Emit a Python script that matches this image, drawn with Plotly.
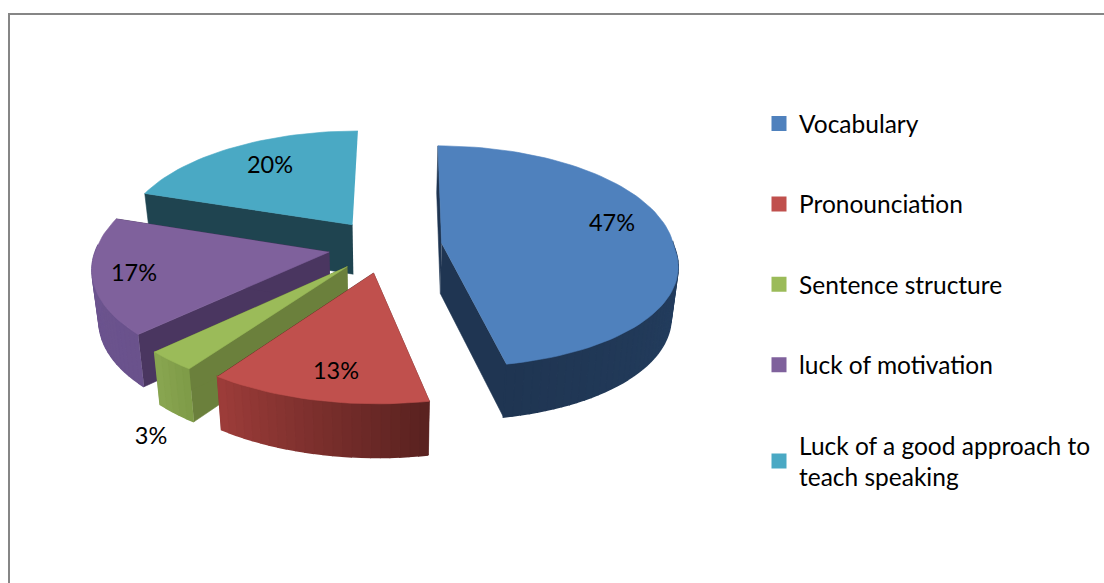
import math
import plotly.graph_objects as go

categories = ["Vocabulary", "Pronounciation", "Sentence structure", "luck of motivation",
              "Luck of a good approach to<br>teach speaking"]
percent_values = [47, 13, 3, 17, 20]

top_colors = ["#4f81bd", "#c0504d", "#9bbb59", "#7f619c", "#4aa9c4"]
face_colors = ["#1f3552", "#5a2220", "#6b803c", "#4a3660", "#1f4450"]
wall_from = ["#2a4a72", "#5a2220", "#7f9c48", "#6a528c", "#1f4450"]
wall_to = ["#1f3552", "#9c3c39", "#88a550", "#6d5591", "#1f4450"]
label_pos = [(612, 225), (336, 373), (151, 438), (134, 275), (270, 167)]

CX, CY, R, EX, K, H, SHRINK = 385, 246, 232, 57, 0.47, 50, 0.024
P_BACK, P_FRONT, P_Y_FRONT, LEAN, LEAN_BACK = 0.10, 0.16, 0.135, 6, 2
STEP = 2.0


def project(u, v, z=0.0):
    n = v / R
    f = 1 + (P_FRONT if n > 0 else P_BACK) * n
    fy = 1 + (P_Y_FRONT if n > 0 else P_BACK) * n
    x = CX + u * f + (LEAN * n if n > 0 else -LEAN_BACK * n)
    y = CY + K * v * fy
    if z:
        x = CX + (x - CX) * (1 - SHRINK)
        y += z * (1 + 0.06 * n)
    return x, y


def rim(mid, ang, r, z=0.0):
    m, a = math.radians(mid), math.radians(ang)
    return project(EX * math.sin(m) + R * r * math.sin(a),
                   -EX * math.cos(m) - R * r * math.cos(a), z)


def lerp(c1, c2, t):
    a = [int(c1[i:i + 2], 16) for i in (1, 3, 5)]
    b = [int(c2[i:i + 2], 16) for i in (1, 3, 5)]
    return "rgb(%d,%d,%d)" % tuple(round(p + (q - p) * t) for p, q in zip(a, b))


def poly(points, color, width=0.6):
    return go.Scatter(x=[p[0] for p in points], y=[p[1] for p in points], mode="lines",
                      fill="toself", fillcolor=color, line=dict(color=color, width=width),
                      hoverinfo="skip", showlegend=False)


fig = go.Figure()
starts = []
acc = 0.0
for val in percent_values:
    starts.append(acc * 3.6)
    acc += val

for i in [4, 3, 2, 1, 0]:
    a0 = starts[i]
    a1 = a0 + percent_values[i] * 3.6
    mid = (a0 + a1) / 2
    n = max(2, int((a1 - a0) / STEP))
    angs = [a0 + (a1 - a0) * j / n for j in range(n + 1)]
    for edge in (a0, a1):
        if edge >= 359.9:
            continue
        fig.add_trace(poly([rim(mid, edge, 0), rim(mid, edge, 1), rim(mid, edge, 1, H),
                            rim(mid, edge, 0, H)], face_colors[i]))
    for j in range(n):
        if math.cos(math.radians(angs[j])) > 0.03:
            continue
        c = lerp(wall_from[i], wall_to[i], j / max(1, n - 1))
        fig.add_trace(poly([rim(mid, angs[j], 1), rim(mid, angs[j + 1], 1),
                            rim(mid, angs[j + 1], 1, H), rim(mid, angs[j], 1, H)], c, 1.6))
    fig.add_trace(poly([rim(mid, a0, 0)] + [rim(mid, a, 1) for a in angs], top_colors[i]))

fig.add_trace(go.Scatter(x=[p[0] for p in label_pos], y=[p[1] for p in label_pos], mode="text",
                         text=[f"{v}%" for v in percent_values],
                         textfont=dict(family="Lato", size=23.5, color="#000000"),
                         hoverinfo="skip", showlegend=False))

for name, color in zip(categories, top_colors):
    fig.add_trace(go.Scatter(x=[None], y=[None], mode="markers", name=name, legendgroup=name,
                             marker=dict(symbol="square", size=15, color=color)))

fig.add_shape(type="rect", xref="x", yref="y", x0=9, y0=14, x1=1130, y1=610,
              line=dict(color="#868686", width=2), layer="below")

fig.update_layout(
    width=1104, height=583, margin=dict(l=0, r=0, t=0, b=0),
    paper_bgcolor="white", plot_bgcolor="white",
    xaxis=dict(range=[0, 1104], visible=False, domain=[0, 1]),
    yaxis=dict(range=[583, 0], visible=False, domain=[0, 1]),
    showlegend=True,
    legend=dict(x=0.6875, y=0.8265, xanchor="left", yanchor="top", tracegroupgap=45.5,
                itemwidth=30, bgcolor="rgba(0,0,0,0)", traceorder="grouped",
                font=dict(family="Lato", size=24.5, color="#000000")),
)
fig.write_html("out.html", config={"displayModeBar": False},
               post_script="document.body.style.margin='0';document.documentElement.style.overflow='hidden';")
